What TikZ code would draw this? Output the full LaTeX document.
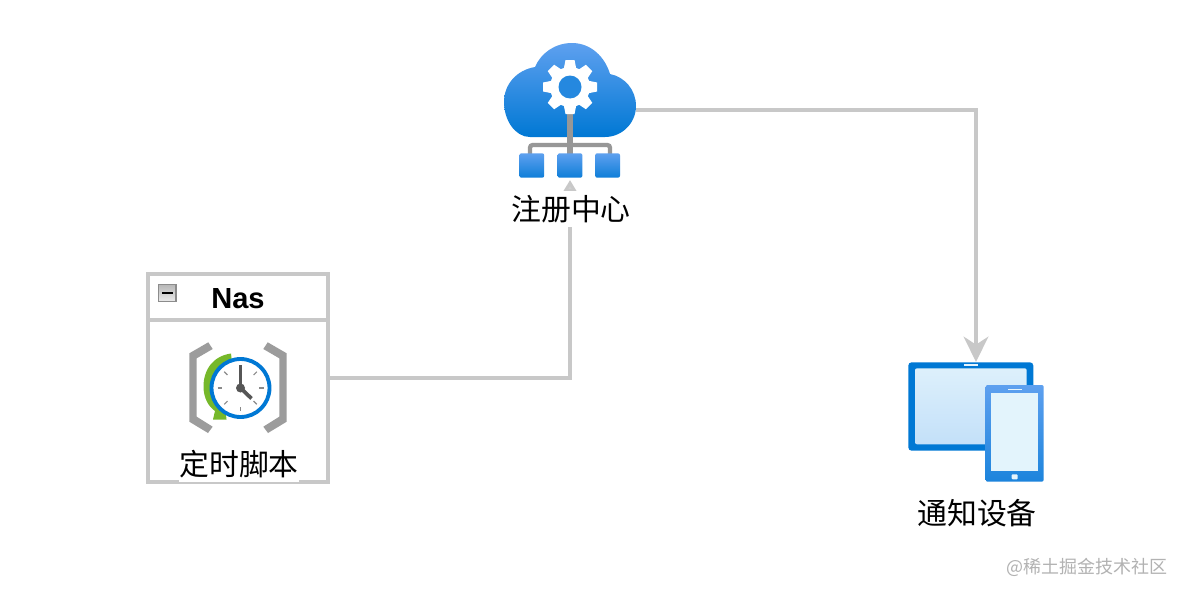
\documentclass[tikz,border=0pt]{standalone}
\usepackage{fontspec}
\setmainfont{Liberation Sans}
\newfontfamily\cjk{Noto Sans CJK SC}
\usetikzlibrary{arrows.meta}
\definecolor{linegray}{HTML}{C8C8C8}
\definecolor{azuretop}{HTML}{5EA0EF}
\definecolor{azurebot}{HTML}{0078D4}
\definecolor{stemgray}{HTML}{979797}
\definecolor{brackgray}{HTML}{9C9C9C}
\definecolor{leafgreen}{HTML}{76B82A}
\definecolor{screentop}{HTML}{DDF0FB}
\definecolor{screenbot}{HTML}{C3E0F9}
\definecolor{phonescreen}{HTML}{E3F4FC}
\definecolor{speaker}{HTML}{E6F4FC}
\definecolor{ticks}{HTML}{8A8A8A}
\definecolor{hands}{HTML}{565656}
\tikzset{
  iconbox/.style={inner sep=0pt,outer sep=0pt,minimum width=#1},
  grouppart/.style={draw=linegray,line width=2.7pt,inner sep=0pt,outer sep=0pt},
  cjklabel/.style={font=\cjk\fontsize{22.4}{26}\selectfont,text=black,inner sep=0pt,outer sep=0pt,fill=white,minimum height=27pt},
  connector/.style={draw=linegray,line width=2.5pt,line join=miter},
  leaf/.style={top color=azuretop,bottom color=azurebot!85!azuretop,rounded corners=1.5pt},
}
\begin{document}
\begin{tikzpicture}[x=0.75pt,y=-0.75pt]
\useasboundingbox (0,0) rectangle (1186,596);
\fill[white] (0,0) rectangle (1186,596);

% anchor nodes
\node[iconbox=99pt,minimum height=102pt] (cloud) at (570,110) {};
\node[iconbox=102pt,minimum height=90pt] (device) at (976,422) {};
\node[grouppart,minimum width=135pt,minimum height=156pt] (nas) at (238,378) {};
\node[grouppart,minimum width=135pt,minimum height=34.5pt] (nashead) at (238,297) {};

% connectors
\draw[connector,-{Triangle[length=9pt,width=10pt,fill=linegray!85!white]},shorten >=1.5pt] (nas.east) -| (cloud.south);
\draw[connector,-{Stealth[length=19pt,width=18.5pt,inset=6pt]}] (cloud.east) -| (device.north);

% cloud
\shade[top color=azuretop,bottom color=azurebot]
  (530,137) .. controls (515,137) and (504,120) .. (504,102)
  .. controls (504,84) and (517,70) .. (535,67)
  .. controls (541,53) and (555,43) .. (572,43)
  .. controls (591,43) and (605,57) .. (610,74)
  .. controls (625,77) and (636,90) .. (636,106)
  .. controls (636,123) and (622,137) .. (605,137) -- cycle;
% network
\draw[stemgray,line width=3.8pt] (570,110) -- (570,155);
\draw[stemgray,line width=3.2pt,rounded corners=2pt] (530,155) -- (530,145) -- (610,145) -- (610,155);
\foreach \c in {531.8,570,607.6}{
  \shade[leaf] (\c-12.4,153.3) rectangle (\c+12.4,177.7);
}
% gear
\begin{scope}[shift={(570,87)}]
  \fill[white] (0,0) circle[radius=20];
  \foreach \a in {0,45,...,315}{
    \fill[white,rotate=\a] (-6.5,-17) -- (-4.5,-27) -- (4.5,-27) -- (6.5,-17) -- cycle;
  }
  \fill[azurebot!60!azuretop] (0,0) circle[radius=11.5];
\end{scope}
\draw[white,line width=3pt] (570,105) -- (570,112);

% group header
\node[font=\bfseries\fontsize{21.8}{24}\selectfont,inner sep=0pt] (nastitle) at (238,299) {Nas};
\shade[top color=black!28,bottom color=black!8,draw=black!45,line width=.8pt] (158.5,284.5) rectangle (176,301.5);
\fill[black] (162,291.8) rectangle (172.5,294.4);

% clock icon
\fill[brackgray] (208.3,342.3) -- (189.3,353.3) -- (189.3,421.7) -- (208,433) -- (212.7,426.7) -- (196.7,416.7) -- (196.7,358.3) -- (212.7,349) -- cycle;
\fill[brackgray] (267.7,342.3) -- (286.7,353.3) -- (286.7,421.7) -- (268,433) -- (263.3,426.7) -- (279.3,416.7) -- (279.3,358.3) -- (263.3,349) -- cycle;
\fill[leafgreen] (231,353.5) .. controls (213,356) and (203,370) .. (203.5,388)
  .. controls (204,398) and (208,406) .. (215,411) -- (213,419.5) -- (226.5,419.5) -- (225,405) -- (235,388) -- cycle;
\draw[draw=azurebot,fill=white,line width=2.9pt] (240.5,388) circle[radius=29];
\foreach \a in {45,90,135,180,225,270,315}{
  \draw[ticks,line width=.8pt,shift={(240.5,388)},rotate=\a] (0,-23) -- (0,-18.5);
}
\draw[hands,line width=2.2pt] (240.5,388) -- (240.5,365);
\draw[hands,line width=2.8pt] (240.5,388) -- (251.5,398.5);
\fill[hands] (240.5,388) circle[radius=4.5];

% devices
\fill[azurebot,rounded corners=2.5pt] (908.3,362.3) rectangle (1033.3,450.7);
\shade[top color=screentop,bottom color=screenbot,rounded corners=1.5pt] (915,368.3) rectangle (1026.7,444.3);
\fill[speaker] (964.3,364.3) rectangle (978.3,366.2);
\shade[top color=azuretop,bottom color=azurebot!70!azuretop,rounded corners=1.5pt] (985.7,385) rectangle (1043.7,481.7);
\fill[phonescreen] (991,393.3) rectangle (1038.3,471);
\fill[speaker] (1007.7,388.7) rectangle (1021.7,390.4);
\fill[speaker,rounded corners=.7pt] (1011.7,474.3) rectangle (1017.7,479.3);

% labels
\node[cjklabel] (lblreg) at (571,209) {注册中心};
\node[cjklabel] (lblcron) at (239,464) {定时脚本};
\node[cjklabel] (lbldev) at (977,513) {通知设备};
\node[font=\cjk\fontsize{13.5}{16}\selectfont,text=black!30,inner sep=0pt,anchor=east] (mark) at (1168,567) {@稀土掘金技术社区};
\end{tikzpicture}
\end{document}
